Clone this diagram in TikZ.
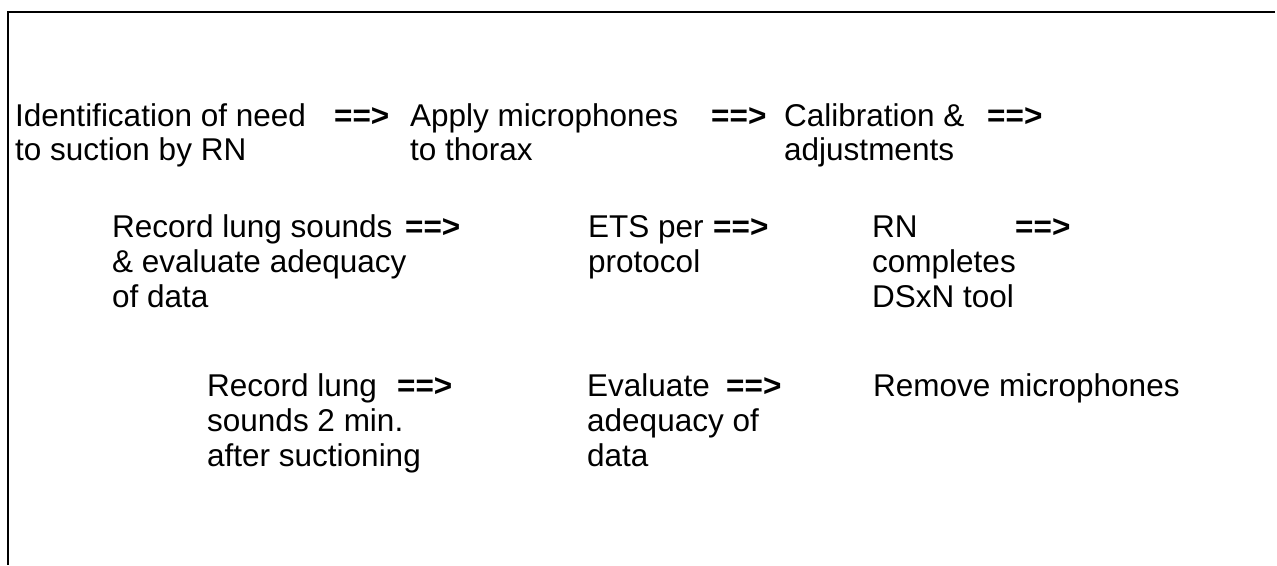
\documentclass[tikz,border=0pt]{standalone}
\usepackage{fontspec}
\setmainfont{Liberation Sans}
\begin{document}
\begin{tikzpicture}[x=1pt,y=-1pt,
  txt/.style={anchor=base west,inner sep=0pt,font=\fontsize{31.5}{35}\selectfont},
  arr/.style={anchor=base west,inner sep=0pt,font=\fontsize{31.5}{35}\selectfont\bfseries}]
\useasboundingbox (0,0) rectangle (1277,565);
\coordinate (tl) at (8,12);
\coordinate (tr) at (1275,12);
\coordinate (bl) at (8,565);
\draw[line width=2.2pt] (tr) -- (tl) -- (bl);
% row 1
\node[txt] (a1) at (15,126) {Identification of need};
\node[txt] (a2) at (15,160) {to suction by RN};
\node[arr] (x1) at (334,126) {==>};
\node[txt] (b1) at (410,126) {Apply microphones};
\node[txt] (b2) at (410,160) {to thorax};
\node[arr] (x2) at (711,126) {==>};
\node[txt] (c1) at (784,126) {Calibration \&};
\node[txt] (c2) at (784,160) {adjustments};
\node[arr] (x3) at (987,126) {==>};
% row 2
\node[txt] (d1) at (112,237) {Record lung sounds};
\node[txt] (d2) at (112,272) {\& evaluate adequacy};
\node[txt] (d3) at (112,307) {of data};
\node[arr] (x4) at (405,237) {==>};
\node[txt] (e1) at (588,237) {ETS per};
\node[txt] (e2) at (588,272) {protocol};
\node[arr] (x5) at (713,237) {==>};
\node[txt] (f1) at (872,237) {RN};
\node[txt] (f2) at (872,272) {completes};
\node[txt] (f3) at (872,307) {DSxN tool};
\node[arr] (x6) at (1015,237) {==>};
% row 3
\node[txt] (g1) at (207,396) {Record lung};
\node[txt] (g2) at (207,431) {sounds 2 min.};
\node[txt] (g3) at (207,466) {after suctioning};
\node[arr] (x7) at (397,396) {==>};
\node[txt] (h1) at (587,396) {Evaluate};
\node[txt] (h2) at (587,431) {adequacy of};
\node[txt] (h3) at (587,466) {data};
\node[arr] (x8) at (726,396) {==>};
\node[txt] (i1) at (873,396) {Remove microphones};
\end{tikzpicture}
\end{document}
